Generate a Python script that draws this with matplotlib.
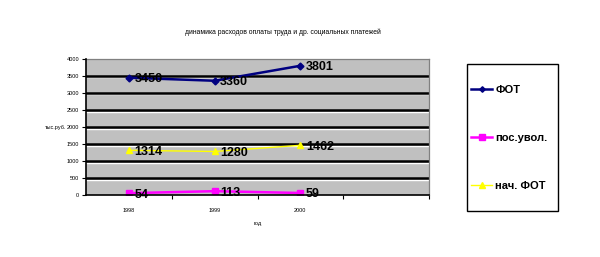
import matplotlib
import matplotlib.pyplot as plt
from matplotlib.patches import Rectangle
from matplotlib.transforms import offset_copy

matplotlib.use("Agg")
plt.rcParams["font.family"] = ["Liberation Sans", "DejaVu Sans"]

# data
years = ["1998", "1999", "2000"]
fot = [3450, 3360, 3801]
pos_uvol = [54, 113, 59]
nach_fot = [1314, 1280, 1462]
series_names = ["ФОТ", "пос.увол.", "нач. ФОТ"]
y_ticks = list(range(0, 4001, 500))

fig = plt.figure(figsize=(6, 2.57), dpi=100)
ax = fig.add_axes([86 / 600, 1 - 195 / 257, 343 / 600, 136 / 257])
ax.set_facecolor("#c0c0c0")

# excel-style gridlines: black line with a white highlight just below
white_tr = offset_copy(ax.transData, fig=fig, y=-1.5, units="dots")
for t in y_ticks[1:-1]:
    ax.plot([-0.5, 3.5], [t, t], color="white", lw=1, transform=white_tr, zorder=1)
    ax.axhline(t, color="black", lw=1.8, zorder=1.5)

x = range(len(years))
styles = [
    (fot, "#000080", "D", 1.8, 3.5),
    (pos_uvol, "#ff00ff", "s", 1.8, 5),
    (nach_fot, "#ffff00", "^", 1.0, 5),
]
for (vals, color, mk, lw, ms), name in zip(styles, series_names):
    ax.plot(x, vals, color=color, marker=mk, lw=lw, ms=ms, label=name, zorder=3)
    for xi, v in zip(x, vals):
        ax.annotate(str(v), (xi, v), xytext=(4, -1), textcoords="offset points",
                    va="center", ha="left", fontsize=9, fontweight="bold", zorder=4)

ax.set_xlim(-0.5, 3.5)
ax.set_ylim(0, 4000)
ax.set_yticks(y_ticks)
ax.set_yticklabels([str(t) for t in y_ticks], fontsize=4)
ax.set_xticks([0.5, 1.5, 2.5, 3.5])
ax.set_xticklabels([])
ax.set_xticks(list(x), minor=True)
ax.set_xticklabels(years, minor=True, fontsize=4)
ax.tick_params(axis="x", which="minor", length=0, pad=9)
ax.tick_params(axis="x", which="major", length=3, direction="out")
ax.tick_params(axis="y", length=3, pad=2)
for s in ("top", "right"):
    ax.spines[s].set_color("#808080")
    ax.spines[s].set_linewidth(0.9)
for s in ("left", "bottom"):
    ax.spines[s].set_linewidth(1.2)
    ax.spines[s].set_zorder(5)

ax.set_ylabel("тыс.руб.", fontsize=4, rotation=0, labelpad=8, va="center")
ax.set_xlabel("год", fontsize=4, labelpad=6)
fig.text(283 / 600, 1 - 32 / 257, "динамика расходов оплаты труда и др. социальных платежей",
         fontsize=4.9, ha="center", va="center")

# legend box
fig.patches.append(Rectangle((467 / 600, 1 - 211 / 257), 91 / 600, 147 / 257,
                             transform=fig.transFigure, fill=False, ec="black", lw=1))
fig.legend(loc="center left", bbox_to_anchor=(471 / 600, 1 - 138 / 257), frameon=False,
           prop={"size": 8, "weight": "bold"}, labelspacing=3.4, handlelength=1.9,
           handletextpad=0.3, borderpad=0, borderaxespad=0, markerscale=0.8)

fig.savefig("out.png", dpi=100, facecolor="white")
